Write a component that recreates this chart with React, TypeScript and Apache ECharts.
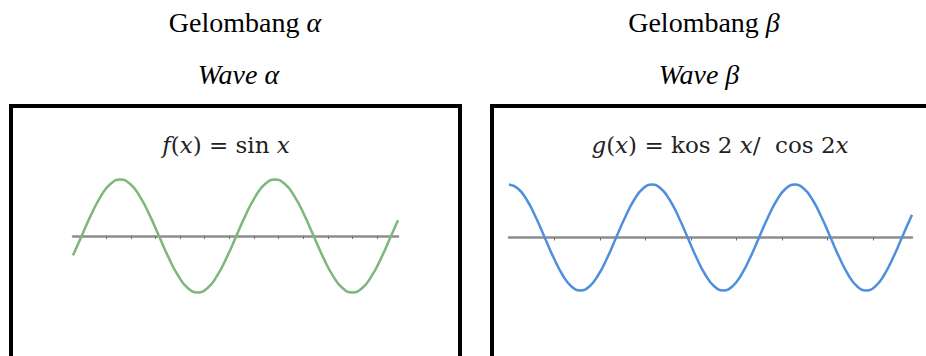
import React, { useEffect, useRef } from "react";
import * as echarts from "echarts";

// Wave alpha: f(x) = sin x, sampled every π/8 along the axis
const alphaX = [
  -0.35, 0, 0.393, 0.785, 1.178, 1.571, 1.963, 2.356, 2.749, 3.142, 3.534, 3.927, 4.32, 4.712, 5.105, 5.498, 5.89,
  6.283, 6.676, 7.069, 7.461, 7.854, 8.247, 8.639, 9.032, 9.425, 9.817, 10.21, 10.603, 10.996, 11.388, 11.781, 12.174,
  12.566, 12.85,
];
const alphaY = [
  -0.343, 0, 0.383, 0.707, 0.924, 1, 0.924, 0.707, 0.383, 0, -0.383, -0.707, -0.924, -1, -0.924, -0.707, -0.383,
  0, 0.383, 0.707, 0.924, 1, 0.924, 0.707, 0.383, 0, -0.383, -0.707, -0.924, -1, -0.924, -0.707, -0.383,
  0, 0.28,
];

// Wave beta: g(x) = cos 2x, sampled every π/16 along the axis
const betaX = [
  0, 0.196, 0.393, 0.589, 0.785, 0.982, 1.178, 1.374, 1.571, 1.767, 1.963, 2.16, 2.356, 2.553, 2.749, 2.945,
  3.142, 3.338, 3.534, 3.731, 3.927, 4.123, 4.32, 4.516, 4.712, 4.909, 5.105, 5.301, 5.498, 5.694, 5.89, 6.087,
  6.283, 6.48, 6.676, 6.872, 7.069, 7.265, 7.461, 7.658, 7.854, 8.05, 8.247, 8.443, 8.639, 8.836, 8.86,
];
const betaY = [
  1, 0.924, 0.707, 0.383, 0, -0.383, -0.707, -0.924, -1, -0.924, -0.707, -0.383, 0, 0.383, 0.707, 0.924,
  1, 0.924, 0.707, 0.383, 0, -0.383, -0.707, -0.924, -1, -0.924, -0.707, -0.383, 0, 0.383, 0.707, 0.924,
  1, 0.924, 0.707, 0.383, 0, -0.383, -0.707, -0.924, -1, -0.924, -0.707, -0.383, 0, 0.383, 0.427,
];

// Tick positions on each horizontal axis
const alphaTicks = [1, 2, 3, 4, 5, 6, 7, 8, 9, 10, 11, 12];
const betaTicks = [1, 2, 3, 4, 5, 6, 7, 8];

const headerFont = "'Liberation Serif', 'Times New Roman', serif";
const mathFont = "'DejaVu Serif', 'Liberation Serif', serif";

const axisGray = "#8d8d8d";

function pairs(xs: number[], ys: number[]) {
  return xs.map((x, i) => [x, ys[i]]);
}

function xAxisFor(gridIndex: number, min: number, max: number, ticks: number[]) {
  return {
    type: "value",
    gridIndex,
    min,
    max,
    axisLine: { onZero: true, lineStyle: { color: axisGray, width: 2.5 } },
    axisTick: {
      show: true,
      customValues: ticks,
      length: 3,
      inside: false,
      lineStyle: { color: "#6f6f6f", width: 1 },
    },
    axisLabel: { show: false },
    splitLine: { show: false },
  };
}

function yAxisFor(gridIndex: number) {
  return {
    type: "value",
    gridIndex,
    min: -1.2,
    max: 1.2,
    show: false,
    splitLine: { show: false },
  };
}

const headerRich = {
  r: { fontFamily: headerFont, fontSize: 28, fill: "#000" },
  i: { fontFamily: headerFont, fontSize: 28, fontStyle: "italic", fill: "#000" },
};

function headerText(text: string, x: number, y: number) {
  return {
    type: "text",
    x,
    y,
    style: {
      text,
      rich: headerRich,
      align: "center",
      verticalAlign: "middle",
    },
  };
}

const mathRich = {
  i: { fontFamily: mathFont, fontSize: 23, fontStyle: "italic", fill: "#222" },
  r: { fontFamily: mathFont, fontSize: 23, fill: "#222" },
};

export default function App() {
  const ref = useRef<HTMLDivElement>(null);

  useEffect(() => {
    if (!ref.current) return;
    const chart = echarts.init(ref.current, undefined, { renderer: "svg" });
    chart.setOption({
      animation: false,
      backgroundColor: "#fff",
      grid: [
        { left: 73, width: 325, top: 168.2, height: 135.6 },
        { left: 509, width: 403, top: 173.9, height: 127.2 },
      ],
      xAxis: [
        xAxisFor(0, -0.35, 12.85, alphaTicks),
        xAxisFor(1, 0, 8.86, betaTicks),
      ],
      yAxis: [yAxisFor(0), yAxisFor(1)],
      series: [
        {
          type: "line",
          xAxisIndex: 0,
          yAxisIndex: 0,
          data: pairs(alphaX, alphaY),
          smooth: true,
          showSymbol: false,
          lineStyle: { color: "#7db77b", width: 2.5 },
          z: 3,
        },
        {
          type: "line",
          xAxisIndex: 1,
          yAxisIndex: 1,
          data: pairs(betaX, betaY),
          smooth: true,
          showSymbol: false,
          lineStyle: { color: "#4f8fdc", width: 2.5 },
          z: 3,
        },
      ],
      graphic: [
        headerText("{r|Gelombang }{i|α}", 245, 22.5),
        headerText("{i|Wave α}", 238.5, 74),
        headerText("{r|Gelombang }{i|β}", 704, 22.5),
        headerText("{i|Wave β}", 699, 74),
        {
          type: "rect",
          shape: { x: 11, y: 106, width: 449, height: 300 },
          style: { fill: "none", stroke: "#000", lineWidth: 4 },
        },
        {
          type: "rect",
          shape: { x: 492, y: 106, width: 500, height: 300 },
          style: { fill: "none", stroke: "#000", lineWidth: 4 },
        },
        {
          type: "text",
          x: 226,
          y: 145,
          style: {
            text: "{i|f}{r|(}{i|x}{r|) = sin }{i|x}",
            rich: mathRich,
            align: "center",
            verticalAlign: "middle",
          },
        },
        {
          type: "text",
          x: 720,
          y: 145,
          style: {
            text: "{i|g}{r|(}{i|x}{r|) = kos 2 }{i|x}{r|/  cos 2}{i|x}",
            rich: mathRich,
            align: "center",
            verticalAlign: "middle",
          },
        },
      ],
    });
    return () => chart.dispose();
  }, []);

  return (
    <div
      ref={ref}
      style={{ position: "absolute", left: 0, top: 0, width: 926, height: 356 }}
    />
  );
}
